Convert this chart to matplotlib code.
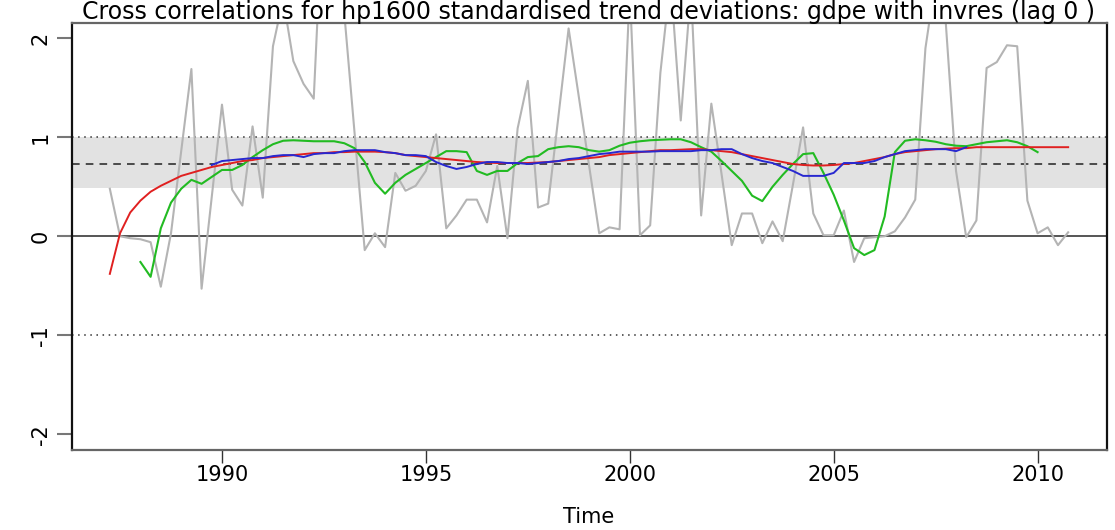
import numpy as np
import matplotlib
matplotlib.use("Agg")
import matplotlib.pyplot as plt

start_year = 1987.25
grey_vals = [0.48, 0.00, -0.02,
             -0.03, -0.06, -0.51, 0.03,
             0.86, 1.69, -0.53, 0.40,
             1.33, 0.47, 0.31, 1.11,
             0.39, 1.92, 2.40, 1.77,
             1.54, 1.39, 3.60, 3.00,
             2.25, 1.05, -0.14, 0.03,
             -0.11, 0.64, 0.46, 0.51,
             0.66, 1.03, 0.08, 0.21,
             0.37, 0.37, 0.14, 0.71,
             -0.02, 1.09, 1.57, 0.29,
             0.33, 1.21, 2.10, 1.41,
             0.72, 0.03, 0.09, 0.07,
             2.50, 0.01, 0.11, 1.65,
             2.60, 1.17, 2.50, 0.21,
             1.34, 0.63, -0.09, 0.23,
             0.23, -0.07, 0.15, -0.05,
             0.52, 1.10, 0.23, 0.01,
             0.01, 0.26, -0.26, -0.02,
             -0.01, 0.00, 0.05, 0.19,
             0.37, 1.90, 2.60, 2.15,
             0.66, -0.01, 0.16, 1.70,
             1.76, 1.93, 1.92, 0.36,
             0.03, 0.09, -0.09, 0.04]

red_vals = [-0.38, 0.03, 0.24,
            0.36, 0.45, 0.51, 0.56,
            0.61, 0.64, 0.67, 0.70,
            0.72, 0.74, 0.76, 0.77,
            0.79, 0.80, 0.81, 0.82,
            0.83, 0.84, 0.84, 0.85,
            0.85, 0.855, 0.855, 0.855,
            0.85, 0.84, 0.82, 0.81,
            0.80, 0.79, 0.78, 0.77,
            0.76, 0.75, 0.745, 0.74,
            0.74, 0.74, 0.74, 0.745,
            0.75, 0.76, 0.77, 0.78,
            0.79, 0.80, 0.82, 0.83,
            0.84, 0.85, 0.86, 0.87,
            0.87, 0.875, 0.88, 0.88,
            0.87, 0.86, 0.85, 0.83,
            0.81, 0.79, 0.77, 0.75,
            0.73, 0.72, 0.715, 0.715,
            0.72, 0.73, 0.74, 0.76,
            0.78, 0.80, 0.83, 0.85,
            0.86, 0.87, 0.88, 0.885,
            0.89, 0.89, 0.90, 0.90,
            0.90, 0.90, 0.90, 0.90,
            0.90, 0.90, 0.90, 0.90]

blue_start = 1989.75
blue_vals = [0.72,
             0.76, 0.77, 0.78, 0.79,
             0.79, 0.81, 0.82, 0.82,
             0.80, 0.83, 0.84, 0.84,
             0.86, 0.87, 0.87, 0.87,
             0.85, 0.84, 0.82, 0.82,
             0.81, 0.75, 0.71, 0.68,
             0.70, 0.73, 0.75, 0.75,
             0.74, 0.74, 0.73, 0.74,
             0.75, 0.76, 0.78, 0.79,
             0.81, 0.83, 0.84, 0.855,
             0.855, 0.855, 0.855, 0.86,
             0.86, 0.86, 0.86, 0.87,
             0.87, 0.88, 0.88, 0.83,
             0.79, 0.76, 0.74, 0.70,
             0.66, 0.61, 0.61, 0.61,
             0.64, 0.74, 0.74, 0.74,
             0.76, 0.80, 0.83, 0.86,
             0.87, 0.88, 0.88, 0.88,
             0.86, 0.90]

green_start = 1988.0
green_vals = [-0.26, -0.41, 0.08, 0.34,
              0.48, 0.57, 0.53, 0.60,
              0.67, 0.67, 0.72, 0.80,
              0.87, 0.93, 0.965, 0.97,
              0.965, 0.96, 0.96, 0.96,
              0.94, 0.89, 0.75, 0.54,
              0.43, 0.54, 0.62, 0.68,
              0.74, 0.80, 0.86, 0.86,
              0.85, 0.66, 0.62, 0.66,
              0.66, 0.74, 0.80, 0.81,
              0.88, 0.90, 0.91, 0.90,
              0.87, 0.855, 0.87, 0.915,
              0.945, 0.96, 0.97, 0.975,
              0.98, 0.98, 0.95, 0.90,
              0.855, 0.76, 0.66, 0.56,
              0.41, 0.355, 0.50, 0.62,
              0.73, 0.83, 0.84, 0.64,
              0.42, 0.16, -0.12, -0.19,
              -0.14, 0.20, 0.85, 0.965,
              0.98, 0.97, 0.955, 0.93,
              0.915, 0.91, 0.93, 0.95,
              0.96, 0.97, 0.95, 0.91,
              0.85]

band_low, band_high = 0.49, 1.0
mean_level = 0.73
title = "Cross correlations for hp1600 standardised trend deviations: gdpe with invres (lag 0 )"
x_ticks = [1990, 1995, 2000, 2005, 2010]
y_ticks = [-2, -1, 0, 1, 2]


def qtime(start, n):
    return start + 0.25 * np.arange(n)


t_grey = qtime(start_year, len(grey_vals))
t_red = qtime(start_year, len(red_vals))
t_blue = qtime(blue_start, len(blue_vals))
t_green = qtime(green_start, len(green_vals))

plt.rcParams['font.family'] = ['DejaVu Sans']

W, H = 1115, 530
L, R, T, B = 71.5, 1106.5, 22.5, 450
fig = plt.figure(figsize=(W / 100, H / 100), dpi=100)
ax = fig.add_axes([L / W, 1 - B / H, (R - L) / W, (B - T) / H])

span = t_grey[-1] - t_grey[0]
ax.set_xlim(t_grey[0] - 0.04 * span, t_grey[-1] + 0.04 * span)
ax.set_ylim(-2.16, 2.16)

ax.axhspan(band_low, band_high, color='#e2e2e2', lw=0, zorder=0)
ax.axhline(1, color='#333333', ls=(0, (1, 3)), lw=1.1, zorder=1)
ax.axhline(-1, color='#333333', ls=(0, (1, 3)), lw=1.1, zorder=1)
ax.axhline(mean_level, color='#222222', ls=(0, (5, 4)), lw=1.1, zorder=1)
ax.axhline(0, color='#555555', lw=1.4, zorder=1)

ax.plot(t_grey, grey_vals, color='#b4b4b4', lw=1.5, zorder=2)
ax.plot(t_green, green_vals, color='#22bb22', lw=1.5, zorder=3)
ax.plot(t_red, red_vals, color='#e02020', lw=1.4, zorder=4)
ax.plot(t_blue, blue_vals, color='#2828d0', lw=1.4, zorder=5)

ax.set_xticks(x_ticks)
ax.set_xticklabels([str(v) for v in x_ticks], fontsize=15)
ax.set_yticks(y_ticks)
ax.set_yticklabels([str(v) for v in y_ticks], fontsize=15, rotation=90, va='center')
ax.tick_params(axis='x', length=9, width=1, color='#333333', pad=2)
ax.tick_params(axis='y', length=11, width=1.5, color='#777777', pad=4)

for s in ['left', 'right']:
    ax.spines[s].set_color('#111111')
    ax.spines[s].set_linewidth(1.6)
for s in ['top', 'bottom']:
    ax.spines[s].set_color('#666666')
    ax.spines[s].set_linewidth(1.6)

ax.set_xlabel('Time', fontsize=15, va='center')
ax.xaxis.set_label_coords(0.5, (B - 517) / (B - T))
fig.text((L + R) / 2 / W, 1 - 19 / H, title, fontsize=17,
         ha='center', va='baseline')

fig.savefig('out.png', dpi=100)
